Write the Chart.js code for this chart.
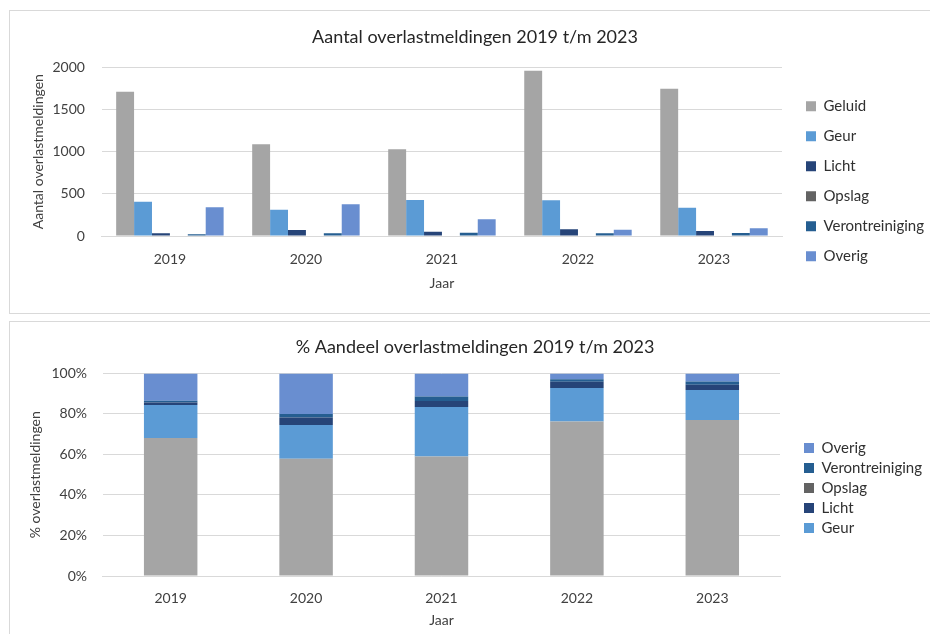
<!DOCTYPE html>
<html lang="nl">
<head>
<meta charset="utf-8">
<title>Overlastmeldingen 2019 t/m 2023</title>
<script src="https://cdn.jsdelivr.net/npm/chart.js@4.4.1/dist/chart.umd.min.js"></script>
<style>
  html, body { margin: 0; padding: 0; background: #fff; overflow: hidden; }
  body { width: 930px; height: 634px; position: relative; }
  .box { position: absolute; left: 9px; width: 940px; border: 1px solid #d9d9d9; box-sizing: border-box; }
  #box1 { top: 10px; height: 304px; }
  #box2 { top: 321px; height: 330px; }
  .box canvas { position: absolute; left: 0; top: 0; }
</style>
</head>
<body>
<div class="box" id="box1"><canvas id="aantal" width="920" height="302"></canvas></div>
<div class="box" id="box2"><canvas id="aandeel" width="920" height="312"></canvas></div>
<script>
// gegevens
const jaren = ["2019", "2020", "2021", "2022", "2023"];
const geluid = [1711, 1087, 1028, 1960, 1747];
const geur = [407, 312, 427, 423, 336];
const licht = [32, 71, 51, 79, 59];
const opslag = [0, 0, 0, 0, 0];
const verontreiniging = [20, 32, 40, 32, 36];
const overig = [340, 376, 198, 75, 91];

const categorieen = ["Geluid", "Geur", "Licht", "Opslag", "Verontreiniging", "Overig"];
const kleuren = ["#a5a5a5", "#5b9bd5", "#264478", "#636363", "#255e91", "#698ed0"];
const reeksen = [geluid, geur, licht, opslag, verontreiniging, overig];

const yTicksAantal = [0, 500, 1000, 1500, 2000];

const FONT = "Lato, 'DejaVu Sans', sans-serif";
const TEKST = "#404040";
const RASTER = "#d9d9d9";

// totaal per jaar, voor de procentuele grafiek
const totalen = jaren.map((_, i) => reeksen.reduce((s, r) => s + r[i], 0));

// legenda en titel verschuiven naar de plek waar Excel ze zet
const blokOffset = {
  id: "blokOffset",
  afterLayout(chart, args, opts) {
    const lg = chart.legend;
    if (lg) {
      lg.left += opts.legendX || 0;
      lg.right = chart.width;
      lg.width = lg.right - lg.left;
      lg.top += opts.legendY || 0;
      lg.bottom += opts.legendY || 0;
    }
    const tb = chart.titleBlock;
    if (tb) {
      tb.left += opts.titleX || 0;
      tb.right += opts.titleX || 0;
    }
  },
};

Chart.defaults.font.family = FONT;
Chart.defaults.color = TEKST;
Chart.defaults.animation = false;

new Chart(document.getElementById("aantal"), {
  type: "bar",
  data: {
    labels: jaren,
    datasets: categorieen.map((naam, i) => ({
      label: naam,
      data: reeksen[i],
      backgroundColor: kleuren[i],
      barPercentage: 1,
      categoryPercentage: 0.79,
    })),
  },
  options: {
    responsive: false,
    layout: { padding: { left: 11, right: 28, top: 0, bottom: 21.6 } },
    plugins: {
      title: {
        display: true,
        text: "Aantal overlastmeldingen 2019 t/m 2023",
        color: "#262626",
        font: { size: 18, weight: "normal" },
        padding: { top: 15.4, bottom: 19.4 },
      },
      legend: {
        position: "right",
        maxWidth: 120,
        labels: { boxWidth: 10, boxHeight: 10, padding: 15, color: "#303030", font: { size: 15 } },
      },
      tooltip: { enabled: false },
      blokOffset: { legendX: 9, legendY: 30, titleX: 13.5 },
    },
    scales: {
      x: {
        grid: { display: false, tickLength: 12, tickColor: "transparent" },
        border: { color: RASTER },
        ticks: { padding: 3, font: { size: 14 } },
        title: { display: true, text: "Jaar", font: { size: 14 }, padding: { top: 3.8, bottom: 0 } },
      },
      y: {
        min: 0,
        max: 2000,
        afterBuildTicks: (axis) => { axis.ticks = yTicksAantal.map((v) => ({ value: v })); },
        grid: { color: RASTER, tickLength: 14, tickColor: "transparent" },
        border: { display: false },
        ticks: { padding: 3, font: { size: 14 }, callback: (v) => String(v) },
        title: { display: true, text: "Aantal overlastmeldingen", font: { size: 14 }, padding: { top: 8.6, bottom: 3 } },
      },
    },
  },
  plugins: [blokOffset],
});

// procentueel aandeel, stapel per jaar
new Chart(document.getElementById("aandeel"), {
  type: "bar",
  data: {
    labels: jaren,
    datasets: categorieen.map((naam, i) => ({
      label: naam,
      data: reeksen[i].map((v, j) => (v / totalen[j]) * 100),
      backgroundColor: kleuren[i],
      barPercentage: 0.395,
      categoryPercentage: 1,
    })),
  },
  options: {
    responsive: false,
    layout: { padding: { left: 11, right: 30, top: 0, bottom: 5.6 } },
    plugins: {
      title: {
        display: true,
        text: "% Aandeel overlastmeldingen 2019 t/m 2023",
        color: "#262626",
        font: { size: 18, weight: "normal" },
        padding: { top: 14.4, bottom: 15.4 },
      },
      legend: {
        position: "right",
        reverse: true,
        maxWidth: 120,
        labels: {
          boxWidth: 10,
          boxHeight: 10,
          padding: 5,
          color: "#303030",
          font: { size: 15 },
          filter: (item) => item.text !== "Geluid",
        },
      },
      tooltip: { enabled: false },
      blokOffset: { legendX: 19, legendY: 12.8, titleX: 14.5 },
    },
    scales: {
      x: {
        stacked: true,
        grid: { display: false, tickLength: 12, tickColor: "transparent" },
        border: { color: RASTER },
        ticks: { padding: 2, font: { size: 14 } },
        title: { display: true, text: "Jaar", font: { size: 14 }, padding: { top: 2.8, bottom: 0 } },
      },
      y: {
        stacked: true,
        min: 0,
        max: 100,
        grid: { color: RASTER, tickLength: 12, tickColor: "transparent" },
        border: { display: false },
        ticks: { stepSize: 20, padding: 4, font: { size: 14 }, callback: (v) => v + "%" },
        title: { display: true, text: "% overlastmeldingen", font: { size: 14 }, padding: { top: 5.6, bottom: 4 } },
      },
    },
  },
  plugins: [blokOffset],
});
</script>
</body>
</html>
